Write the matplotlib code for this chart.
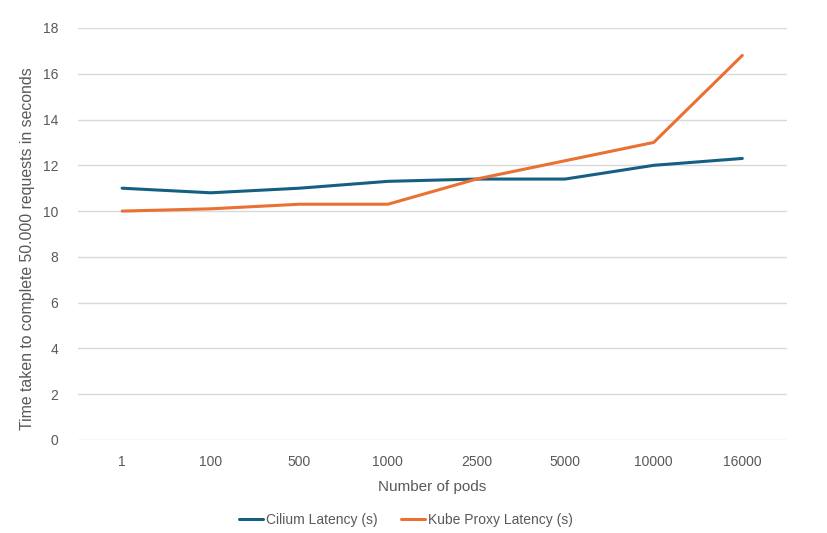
import numpy as np
import matplotlib.pyplot as plt

plt.rcParams['font.family'] = ['Liberation Sans', 'DejaVu Sans']

pods = ["1", "100", "500", "1000", "2500", "5000", "10000", "16000"]
cilium = [11.0, 10.8, 11.0, 11.3, 11.4, 11.4, 12.0, 12.3]
kube_proxy = [10.0, 10.1, 10.3, 10.3, 11.4, 12.2, 13.0, 16.8]

text_col = "#595959"
fig = plt.figure(figsize=(8.28, 5.33), dpi=100)
ax = fig.add_axes([0.094, 0.1745, 0.856, 0.773])

x = np.arange(len(pods))
ax.plot(x, cilium, color="#155F82", lw=2.2, label="Cilium Latency (s)", solid_capstyle="round")
ax.plot(x, kube_proxy, color="#E97132", lw=2.2, label="Kube Proxy Latency (s)", solid_capstyle="round")

ax.set_xlim(-0.5, len(pods) - 0.5)
ax.set_ylim(0, 18)
ax.set_yticks(np.arange(0, 19, 2))
ax.set_xticks(x)
ax.set_xticklabels(pods)
ax.grid(axis="y", color="#D9D9D9", lw=1)
ax.set_axisbelow(True)
for s in ax.spines.values():
    s.set_visible(False)
ax.tick_params(length=0, colors=text_col, labelsize=10)
ax.tick_params(axis="y", pad=14)
ax.tick_params(axis="x", pad=11)

ax.set_xlabel("Number of pods", color=text_col, fontsize=11, labelpad=8)
fig.text(28 / 828, 1 - 249 / 533, "Time taken to complete 50.000 requests in seconds",
         rotation=90, ha="center", va="center", color=text_col, fontsize=11.4)

leg = fig.legend(loc="center", bbox_to_anchor=(0.49, 0.024), ncol=2, frameon=False,
                 fontsize=10, handlelength=1.75, handletextpad=0.2, columnspacing=1.7)
for t in leg.get_texts():
    t.set_color(text_col)

fig.savefig("out.png", dpi=100)
